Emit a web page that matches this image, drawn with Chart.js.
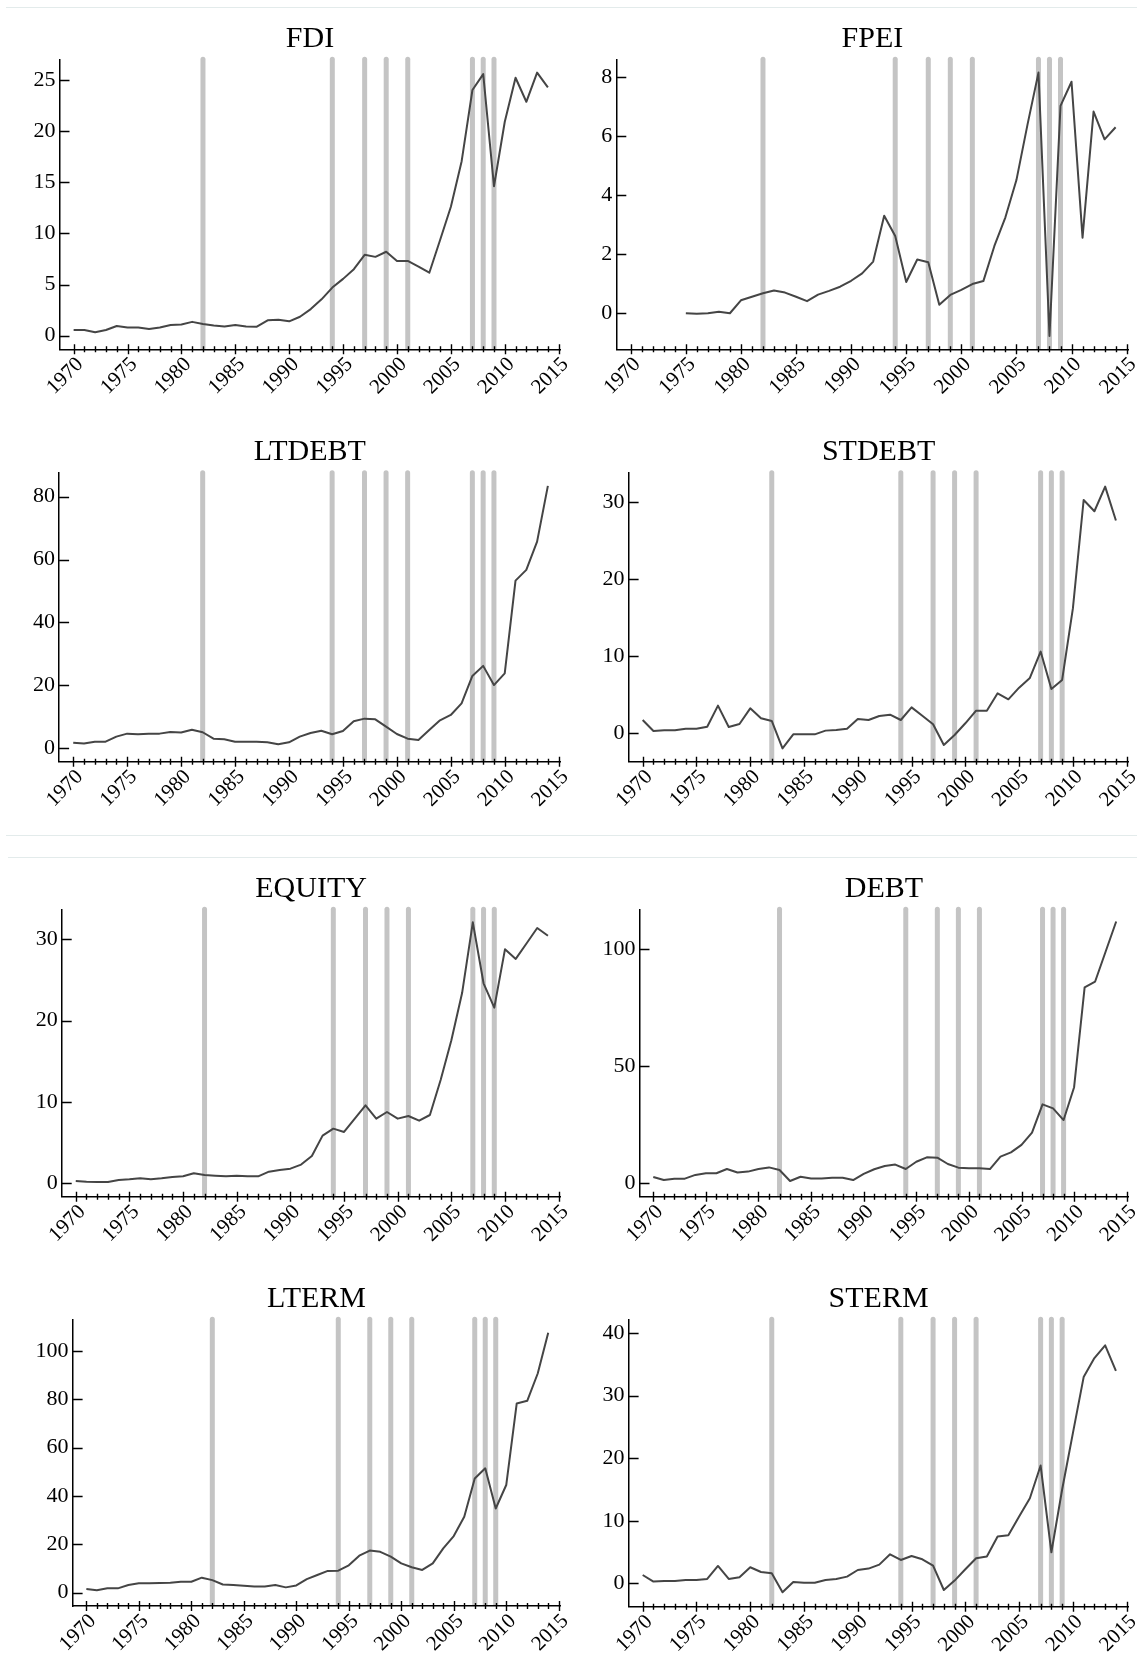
<!DOCTYPE html>
<html>
<head>
<meta charset="utf-8">
<script src="https://cdn.jsdelivr.net/npm/chart.js@4.4.1/dist/chart.umd.min.js"></script>
<style>
  html, body { margin: 0; padding: 0; background: #fff; }
  #page { position: relative; width: 1137px; height: 1670px; overflow: hidden; background: #fff; }
  #page canvas { position: absolute; }
  .rule { position: absolute; height: 1px; background: #e3ebeb; }
</style>
</head>
<body>
<div id="page">
  <div class="rule" style="left:6px;right:0;top:7px"></div>
  <div class="rule" style="left:6px;right:0;top:835px"></div>
  <div class="rule" style="left:8px;right:0;top:857px"></div>
</div>
<script>
// Annual observations, 1970-2014
const years = [1970, 1971, 1972, 1973, 1974, 1975, 1976, 1977, 1978, 1979,
               1980, 1981, 1982, 1983, 1984, 1985, 1986, 1987, 1988, 1989,
               1990, 1991, 1992, 1993, 1994, 1995, 1996, 1997, 1998, 1999,
               2000, 2001, 2002, 2003, 2004, 2005, 2006, 2007, 2008, 2009,
               2010, 2011, 2012, 2013, 2014];

// Crisis years marked with grey vertical bands
const crisisYears = [1982, 1994, 1997, 1999, 2001, 2007, 2008, 2009];

const fdi = [0.55, 0.55, 0.33, 0.55, 0.95, 0.8, 0.8, 0.65, 0.8, 1.05,
             1.1, 1.35, 1.15, 1.0, 0.9, 1.05, 0.9, 0.88, 1.5, 1.55,
             1.4, 1.85, 2.6, 3.55, 4.7, 5.55, 6.5, 7.9, 7.7, 8.2,
             7.3, 7.3, 6.75, 6.15, 9.35, 12.6, 17.05, 24.0, 25.55, 14.6,
             20.9, 25.2, 22.85, 25.7, 24.25];

const fpei = [null, null, null, null, null, 0.0, -0.02, 0.0, 0.05, 0.0,
              0.44, 0.56, 0.68, 0.77, 0.70, 0.56, 0.41, 0.63, 0.76, 0.90,
              1.1, 1.35, 1.75, 3.3, 2.62, 1.06, 1.82, 1.73, 0.29, 0.62,
              0.79, 0.99, 1.09, 2.28, 3.25, 4.51, 6.38, 8.15, -0.77, 7.02,
              7.84, 2.56, 6.83, 5.89, 6.30];

const ltdebt = [1.8, 1.5, 2.1, 2.1, 3.7, 4.66, 4.45, 4.66, 4.66, 5.2,
                5.0, 5.9, 5.1, 3.07, 2.86, 2.1, 2.1, 2.1, 1.9, 1.27,
                1.9, 3.7, 4.87, 5.6, 4.45, 5.5, 8.6, 9.43, 9.2, 6.9,
                4.55, 3.07, 2.65, 5.8, 8.9, 10.6, 14.3, 23.0, 26.2, 20.1,
                23.8, 53.3, 56.7, 65.7, 83.4];

const stdebt = [1.73, 0.3, 0.39, 0.39, 0.6, 0.6, 0.86, 3.59, 0.82, 1.21,
                3.24, 1.95, 1.6, -1.95, -0.13, -0.13, -0.13, 0.35, 0.43, 0.6,
                1.86, 1.73, 2.25, 2.42, 1.73, 3.37, 2.29, 1.17, -1.51, -0.22,
                1.3, 2.94, 2.94, 5.19, 4.41, 5.92, 7.18, 10.6, 5.75, 6.92,
                16.2, 30.26, 28.8, 32.0, 27.6];

const equity = [0.29, 0.2, 0.16, 0.16, 0.41, 0.49, 0.61, 0.49, 0.61, 0.78,
                0.86, 1.23, 1.02, 0.94, 0.86, 0.94, 0.86, 0.86, 1.43, 1.64,
                1.8, 2.3, 3.36, 5.86, 6.72, 6.31, 7.95, 9.59, 7.95, 8.77,
                7.95, 8.28, 7.7, 8.4, 12.7, 17.6, 23.4, 32.1, 24.6, 21.6,
                28.8, 27.6, 29.5, 31.4, 30.45];

const debt = [2.7, 1.4, 2.0, 2.0, 3.6, 4.3, 4.3, 6.1, 4.6, 5.0,
              6.1, 6.8, 5.7, 1.0, 2.8, 2.1, 2.1, 2.4, 2.4, 1.4,
              4.0, 6.0, 7.4, 8.0, 6.1, 9.2, 11.1, 10.95, 8.25, 6.7,
              6.4, 6.4, 6.1, 11.4, 13.2, 16.4, 21.6, 33.7, 32.0, 27.0,
              41.0, 83.6, 86.1, 98.9, 111.7];

const lterm = [1.5, 1.0, 1.8, 1.8, 3.2, 3.9, 3.9, 4.0, 4.1, 4.5,
               4.5, 6.2, 5.2, 3.4, 3.2, 2.9, 2.6, 2.6, 3.2, 2.2,
               3.0, 5.6, 7.3, 9.0, 9.1, 11.3, 15.3, 17.4, 16.9, 14.9,
               12.1, 10.5, 9.4, 12.1, 18.3, 23.4, 31.4, 47.2, 51.4, 34.8,
               44.5, 78.2, 79.3, 90.6, 107.4];

const sterm = [1.33, 0.27, 0.37, 0.37, 0.53, 0.53, 0.69, 2.77, 0.69, 0.96,
               2.56, 1.81, 1.6, -1.44, 0.21, 0.1, 0.1, 0.53, 0.69, 1.07,
               2.13, 2.35, 2.99, 4.64, 3.73, 4.37, 3.84, 2.83, -1.07, 0.43,
               2.24, 4.0, 4.27, 7.47, 7.68, 10.67, 13.6, 18.83, 4.96, 15.0,
               24.0, 32.96, 36.0, 38.03, 33.97];

// Panel grid: two columns, four rows
const colX = [0, 568], colW = [568, 569];
const rowY = [8, 420, 858, 1250], rowH = [412, 414, 392, 420];

// Plot area of each panel on the page: [left, top, right, bottom]
const panels = [
  { title: 'FDI',    values: fdi,    col: 0, row: 0, area: [59.5, 59.3, 560.5, 349.3],   yMin: -1.33, yMax: 27.0,  yStep: 5 },
  { title: 'FPEI',   values: fpei,   col: 1, row: 0, area: [616.3, 59.3, 1128.5, 349.3], yMin: -1.22, yMax: 8.6,   yStep: 2 },
  { title: 'LTDEBT', values: ltdebt, col: 0, row: 1, area: [59.1, 472.7, 560.5, 761.7],  yMin: -4.26, yMax: 87.6,  yStep: 20 },
  { title: 'STDEBT', values: stdebt, col: 1, row: 1, area: [628.6, 472.7, 1128.5, 761.7], yMin: -3.68, yMax: 33.8, yStep: 10 },
  { title: 'EQUITY', values: equity, col: 0, row: 2, area: [61.7, 909.3, 560.5, 1196.7], yMin: -1.65, yMax: 33.7,  yStep: 10 },
  { title: 'DEBT',   values: debt,   col: 1, row: 2, area: [639.5, 909.3, 1128.5, 1196.7], yMin: -5.7, yMax: 116.9, yStep: 50 },
  { title: 'LTERM',  values: lterm,  col: 0, row: 3, area: [72.6, 1319.3, 560.5, 1606],  yMin: -5.5,  yMax: 113,   yStep: 20 },
  { title: 'STERM',  values: sterm,  col: 1, row: 3, area: [628.6, 1319.3, 1128.5, 1606.7], yMin: -3.74, yMax: 42.2, yStep: 10 }
];

const X_MIN = 1968.69, X_MAX = 2015.17;
const FONT = '"Liberation Serif", "Times New Roman", serif';

Chart.defaults.font.family = FONT;
Chart.defaults.color = '#000';

// Tick marks (crossing on the x axis, inward on the y axis) and the panel title
const panelDecor = {
  id: 'panelDecor',
  afterDraw(chart, args, opts) {
    const { ctx, chartArea, scales } = chart;
    const xs = scales.x, ys = scales.y;
    ctx.save();
    ctx.strokeStyle = '#000';
    ctx.lineWidth = 1.4;
    ctx.beginPath();
    xs.ticks.forEach(t => {
      const v = t.value;
      if (v < 1970 || v > 2015 || Math.abs(v - Math.round(v)) > 1e-6) return;
      const px = Math.round(xs.getPixelForValue(v)) + 0.5;
      const len = (Math.round(v) % 5 === 0) ? 5 : 3;
      ctx.moveTo(px, chartArea.bottom - len);
      ctx.lineTo(px, chartArea.bottom + len);
    });
    ys.ticks.forEach(t => {
      const py = Math.round(ys.getPixelForValue(t.value)) + 0.5;
      ctx.moveTo(chartArea.left, py);
      ctx.lineTo(chartArea.left + 10, py);
    });
    ctx.stroke();

    ctx.fillStyle = '#000';
    ctx.font = '30px ' + FONT;
    ctx.textAlign = 'center';
    ctx.textBaseline = 'middle';
    ctx.fillText(opts.text, (chartArea.left + chartArea.right) / 2, chartArea.top - 20.5);
    ctx.restore();
  }
};

const page = document.getElementById('page');

panels.forEach(p => {
  const cx = colX[p.col], cw = colW[p.col];
  const cy = rowY[p.row], ch = rowH[p.row];
  const [aL, aT, aR, aB] = p.area;
  const padTop = aT - cy;
  const padRight = cx + cw - aR;
  const yWidth = aL - cx;
  const xHeight = cy + ch - aB;

  const canvas = document.createElement('canvas');
  canvas.width = cw;
  canvas.height = ch;
  canvas.style.left = cx + 'px';
  canvas.style.top = cy + 'px';
  canvas.style.width = cw + 'px';
  canvas.style.height = ch + 'px';
  page.appendChild(canvas);

  const bands = crisisYears.map(yr => ({
    type: 'line',
    data: [{ x: yr, y: p.yMin }, { x: yr, y: p.yMax }],
    borderColor: '#c4c4c4',
    borderWidth: 5,
    borderCapStyle: 'round',
    pointRadius: 0,
    clip: { left: 5, right: 5, top: false, bottom: 0 },
    order: 2
  }));

  const series = {
    type: 'line',
    data: years.map((yr, i) => ({ x: yr, y: p.values[i] })),
    borderColor: '#454545',
    borderWidth: 2,
    borderJoinStyle: 'round',
    pointRadius: 0,
    tension: 0,
    spanGaps: false,
    order: 0
  };

  new Chart(canvas, {
    type: 'line',
    data: { datasets: [series, ...bands] },
    options: {
      responsive: false,
      animation: false,
      devicePixelRatio: 1,
      layout: { padding: { top: padTop, right: padRight, left: 0, bottom: 0 } },
      plugins: {
        legend: { display: false },
        tooltip: { enabled: false },
        title: { display: false },
        panelDecor: { text: p.title }
      },
      scales: {
        x: {
          type: 'linear',
          min: X_MIN,
          max: X_MAX,
          grid: { display: false, drawTicks: false },
          border: { display: true, color: '#000', width: 1.5, z: 1 },
          ticks: {
            stepSize: 1,
            autoSkip: false,
            includeBounds: false,
            minRotation: 45,
            maxRotation: 45,
            padding: 3,
            labelOffset: 6.5,
            color: '#000',
            font: { size: 21 },
            callback: v => (Math.abs(v % 5) < 1e-6 ? String(v) : '')
          },
          afterFit: s => { s.height = xHeight; s.paddingLeft = 0; s.paddingRight = 0; }
        },
        y: {
          type: 'linear',
          min: p.yMin,
          max: p.yMax,
          grid: { display: false, drawTicks: false },
          border: { display: true, color: '#000', width: 1.5, z: 1 },
          ticks: {
            stepSize: p.yStep,
            includeBounds: false,
            padding: 4,
            color: '#000',
            font: { size: 22 },
            callback: v => String(v)
          },
          afterFit: s => { s.width = yWidth; s.paddingTop = 0; s.paddingBottom = 0; }
        }
      }
    },
    plugins: [panelDecor]
  });
});
</script>
</body>
</html>
